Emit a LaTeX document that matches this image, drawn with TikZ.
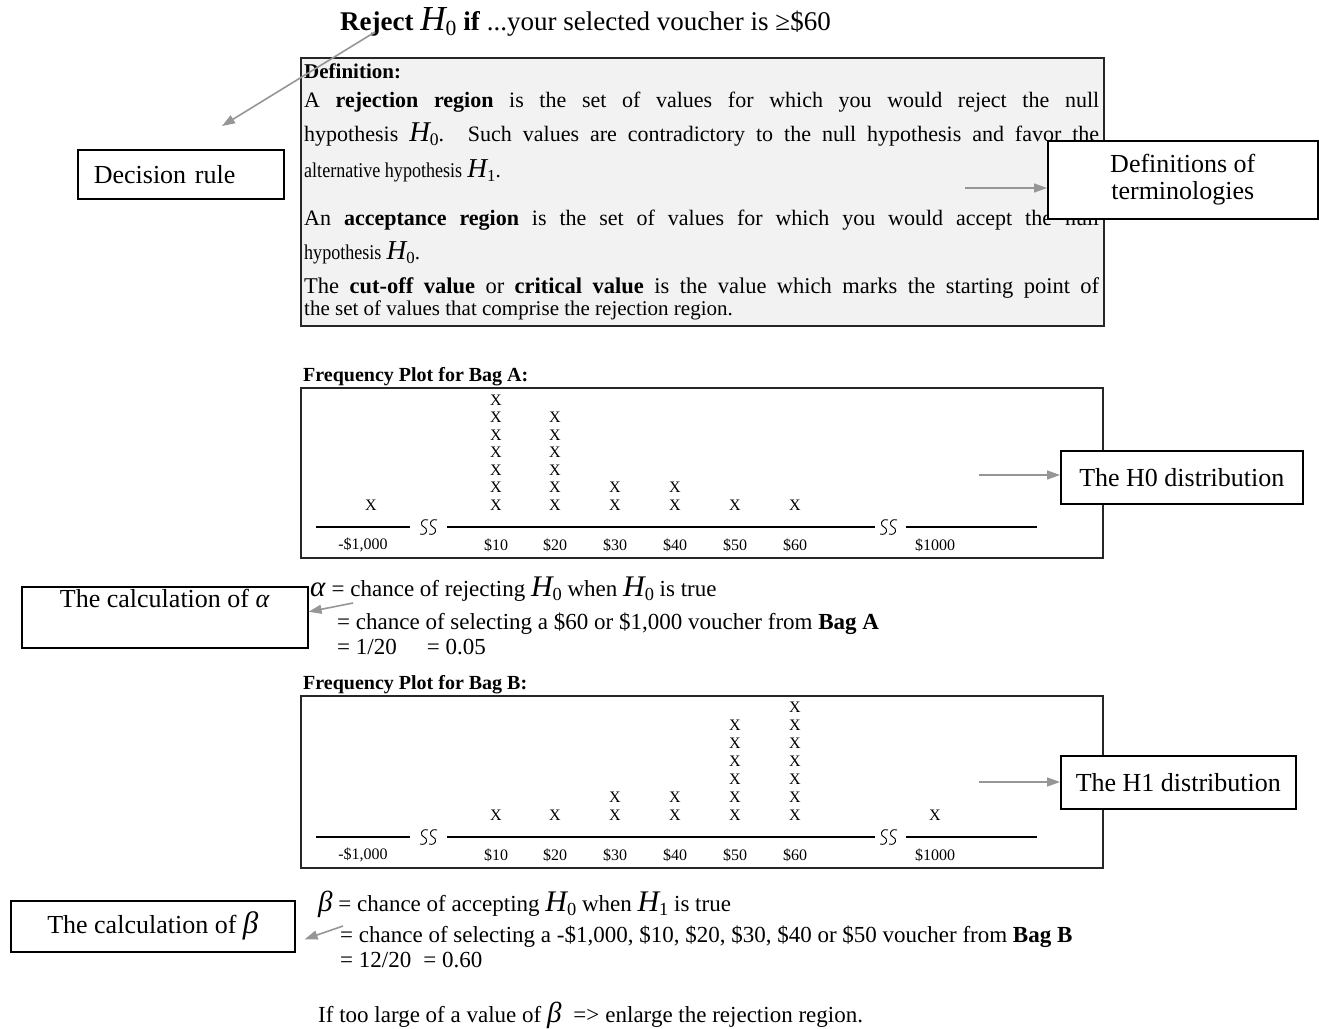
\documentclass[tikz,border=0pt]{standalone}
\usepackage{fontspec}
\setmainfont{Liberation Serif}
\newfontfamily\narrowfont[FakeStretch=0.86]{Liberation Serif}
\usepackage{graphicx}
\usepackage{xcolor}
\usepackage{tikz}
\usetikzlibrary{arrows.meta}

\definecolor{arrowgray}{RGB}{150,150,150}
\definecolor{defgray}{RGB}{242,242,242}
\newcommand{\Hyp}[1]{\textit{\scalebox{1.3}{H}}\raisebox{-0.45ex}{\scalebox{0.8}{#1}}}

\begin{document}
\begin{tikzpicture}[
    x=1pt, y=-1pt,
    callout/.style={rectangle, draw=black, line width=1.6pt, fill=white, anchor=north west,
                    font=\fontsize{26}{28}\selectfont, align=center},
    defbox/.style={rectangle, draw=black!85, line width=1.5pt, fill=defgray, anchor=north west},
    defline/.style={anchor=base west, inner sep=0pt, font=\fontsize{22}{26}\selectfont},
    calc/.style={anchor=base west, inner sep=0pt, font=\fontsize{23}{27}\selectfont},
    plotbox/.style={rectangle, draw=black!85, line width=1.8pt, fill=white, anchor=north west},
    plottitle/.style={anchor=base west, inner sep=0pt, font=\bfseries\fontsize{20}{22}\selectfont},
    xmk/.style={inner sep=0pt, font=\fontsize{16}{16}\selectfont},
    ticklbl/.style={inner sep=0pt, font=\fontsize{16}{16}\selectfont},
    axis/.style={line width=1.5pt},
    brk/.style={line width=0.9pt},
    arr/.style={-{Triangle[length=13pt, width=9pt]}, draw=arrowgray, fill=arrowgray, line width=1.6pt}
]
    \useasboundingbox (0,0) rectangle (1319,1028);

    \node[anchor=base west, inner sep=0pt, font=\fontsize{27}{30}\selectfont] (rule) at (340,30)
        {\textbf{Reject} \Hyp{0} \textbf{if} ...your selected voucher is ≥\$60};

    \node[defbox, minimum width=803pt, minimum height=268pt] (defn) at (300,57) {};
    \node[defline, font=\bfseries\fontsize{21}{25}\selectfont] (deftitle) at (304,78) {Definition:};
    \node[defline] (defl1) at (304,107) {\makebox[795pt][s]{A \textbf{rejection region} is the set of values for which you would reject the null}};
    \node[defline] (defl2) at (304,141) {\makebox[795pt][s]{hypothesis \Hyp{0}. Such values are contradictory to the null hypothesis and favor the}};
    \node[defline, font=\fontsize{21}{25}\selectfont] (defl3) at (304,177) {{\narrowfont alternative hypothesis} \Hyp{1}.};
    \node[defline] (defl4) at (304,225) {\makebox[795pt][s]{An \textbf{acceptance region} is the set of values for which you would accept the null}};
    \node[defline, font=\fontsize{21}{25}\selectfont] (defl5) at (304,259) {{\narrowfont hypothesis} \Hyp{0}.};
    \node[defline, font=\fontsize{22.5}{26}\selectfont] (defl6) at (304,293) {\makebox[795pt][s]{The \textbf{cut-off value} or \textbf{critical value} is the value which marks the starting point of}};
    \node[defline, font=\fontsize{21}{25}\selectfont] (defl7) at (304,315) {the set of values that comprise the rejection region.};

    \node[plottitle] (titlea) at (303,381) {Frequency Plot for Bag A:};
    \node[plotbox, minimum width=802pt, minimum height=170pt] (plota) at (300,387) {};
    \draw[axis] (316,527) -- (410,527) (447,527) -- (875,527) (906,527) -- (1037,527);
    \foreach \px/\n in {371/1, 496/7, 555/6, 615/2, 675/2, 735/1, 795/1}
        \foreach \k in {1,...,\n}
            \node[xmk] (xa-\px-\k) at (\px,{505-(\k-1)*17.5}) {X};
    \foreach \px/\lbl in {363/{-\$1,000}, 496/\$10, 555/\$20, 615/\$30, 675/\$40, 735/\$50, 795/\$60, 935/\$1000}
        \node[ticklbl] (ta-\px) at (\px,545) {\lbl};

    \node[plottitle] (titleb) at (303,689) {Frequency Plot for Bag B:};
    \node[plotbox, minimum width=802pt, minimum height=172pt] (plotb) at (300,695) {};
    \draw[axis] (316,837) -- (410,837) (447,837) -- (875,837) (906,837) -- (1037,837);
    \foreach \px/\n in {496/1, 555/1, 615/2, 675/2, 735/6, 795/7, 935/1}
        \foreach \k in {1,...,\n}
            \node[xmk] (xb-\px-\k) at (\px,{815-(\k-1)*18}) {X};
    \foreach \px/\lbl in {363/{-\$1,000}, 496/\$10, 555/\$20, 615/\$30, 675/\$40, 735/\$50, 795/\$60, 935/\$1000}
        \node[ticklbl] (tb-\px) at (\px,855) {\lbl};

    \foreach \by in {527,837}
        \foreach \bx in {424,884}
            \foreach \dx in {0,9}
                \draw[brk] ({\bx+\dx+4},{\by-7}) .. controls ({\bx+\dx-4},{\by-9}) and ({\bx+\dx-4},{\by-1}) .. ({\bx+\dx},\by)
                           .. controls ({\bx+\dx+4},{\by+1}) and ({\bx+\dx+4},{\by+9}) .. ({\bx+\dx-4},{\by+7});

    \node[calc] (alpha1) at (310,596) {{\fontsize{29}{29}\selectfont\textit{α}} = chance of rejecting \Hyp{0} when \Hyp{0} is true};
    \node[calc] (alpha2) at (337,629) {= chance of selecting a \$60 or \$1,000 voucher from \textbf{Bag A}};
    \node[calc] (alpha3) at (337,654) {= 1/20\hspace{30pt}= 0.05};

    \node[calc] (beta1) at (318,911) {{\fontsize{29}{29}\selectfont\textit{β}} = chance of accepting \Hyp{0} when \Hyp{1} is true};
    \node[calc] (beta2) at (340,942) {= chance of selecting a -\$1,000, \$10, \$20, \$30, \$40 or \$50 voucher from \textbf{Bag B}};
    \node[calc] (beta3) at (340,967) {= 12/20\hspace{12pt}= 0.60};
    \node[calc] (enlarge) at (318,1022) {If too large of a value of {\fontsize{29}{29}\selectfont\textit{β}}\hspace{12pt}=>\hspace{6pt}enlarge the rejection region.};

    \node[callout, align=left, text width=174pt, inner xsep=16pt, minimum height=49pt] (decision) at (77,149) {Decision rule};
    \node[callout, minimum width=270pt, minimum height=78pt] (defcall) at (1047,140) {Definitions of\\[-1pt]terminologies};
    \node[callout, minimum width=242pt, minimum height=53pt] (h0call) at (1060,450) {The H0 distribution};
    \node[callout, minimum width=235pt, minimum height=53pt] (h1call) at (1060,755) {The H1 distribution};
    \node[callout, minimum width=286pt, minimum height=61pt, inner ysep=0pt, text height=21pt, text depth=40pt] (alphacall) at (21,586) {The calculation of \textit{α}};
    \node[callout, minimum width=284pt, minimum height=51pt] (betacall) at (10,900) {The calculation of {\fontsize{31}{31}\selectfont\textit{β}}};

    \coordinate (rulefrom) at (375,32);
    \coordinate (ruleto) at (222,126);
    \draw[arr] (rulefrom) -- (ruleto);
    \coordinate (deffrom) at (965,188);
    \draw[arr] (deffrom) -- (deffrom -| defcall.west);
    \coordinate (h0from) at (979,475);
    \draw[arr] (h0from) -- (h0from -| h0call.west);
    \coordinate (h1from) at (979,782);
    \draw[arr] (h1from) -- (h1from -| h1call.west);
    \coordinate (alphafrom) at (353,603);
    \draw[arr] (alphafrom) -- ([yshift=5.5pt]alphacall.east);
    \coordinate (betafrom) at (343,926);
    \draw[arr] (betafrom) -- ([xshift=9pt,yshift=-13pt]betacall.east);
\end{tikzpicture}
\end{document}
